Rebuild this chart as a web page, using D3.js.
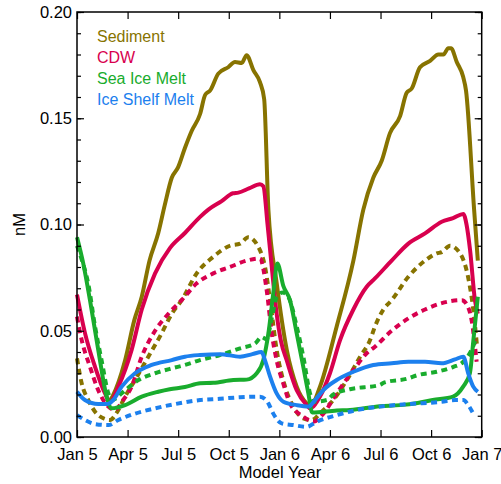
<!DOCTYPE html>
<html>
<head>
<meta charset="utf-8">
<script src="https://cdn.jsdelivr.net/npm/d3@7"></script>
<style>
  html, body { margin: 0; padding: 0; background: #fff; }
  svg { display: block; font-family: "Liberation Sans", Arial, sans-serif; }
</style>
</head>
<body>
<svg id="chart" width="501" height="484"></svg>
<script>
// ---- data (month index from Jan of model year 5, value in nM) ----
const xTickMonths = [0, 3, 6, 9, 12, 15, 18, 21, 24];
const xTickLabels = ["Jan 5", "Apr 5", "Jul 5", "Oct 5", "Jan 6", "Apr 6", "Jul 6", "Oct 6", "Jan 7"];
const yTickValues = [0, 0.05, 0.10, 0.15, 0.20];
const yTickLabels = ["0.00", "0.05", "0.10", "0.15", "0.20"];

const seriesNames = ["Sediment", "CDW", "Sea Ice Melt", "Ice Shelf Melt"];
const seriesColors = ["#877300", "#D8004E", "#19AC2D", "#1C80EE"];

const sedimentSolid = [[1.85,0.016],[2.1,0.019],[2.85,0.036],[3.4,0.055],[3.84,0.066],[4.3,0.083],[4.82,0.096],[5.2,0.109],[5.62,0.122],[6.0,0.127],[6.4,0.136],[6.8,0.144],[7.3,0.152],[7.6,0.161],[7.89,0.163],[8.38,0.171],[8.97,0.174],[9.37,0.1765],[9.77,0.176],[10.06,0.1797],[10.46,0.1726],[10.85,0.167],[11.1,0.159],[11.35,0.107],[11.85,0.072],[12.44,0.041],[13.03,0.0237],[13.62,0.0158],[13.85,0.0145],[14.41,0.0237],[15.4,0.052],[16.39,0.083],[16.98,0.107],[17.57,0.122],[18.07,0.130],[18.56,0.143],[19.16,0.151],[19.55,0.162],[19.85,0.164],[20.34,0.174],[20.94,0.177],[21.43,0.180],[21.73,0.180],[22.02,0.183],[22.18,0.183],[22.52,0.1765],[22.9,0.1695],[23.07,0.163],[23.55,0.107],[23.77,0.083]];
const sedimentDotted = [[0,0.037],[0.28,0.0252],[0.67,0.0174],[1.07,0.0119],[1.56,0.0088],[1.96,0.008],[2.4,0.012],[2.85,0.019],[3.44,0.0268],[4.23,0.0378],[5.02,0.0488],[5.62,0.058],[6.21,0.0644],[7.1,0.077],[8.08,0.0848],[9.07,0.090],[9.67,0.091],[10.16,0.094],[10.75,0.0895],[11.15,0.080],[11.45,0.0644],[11.84,0.041],[12.34,0.0237],[12.83,0.0143],[13.42,0.0088],[13.92,0.008],[14.51,0.0119],[15.2,0.0174],[16.0,0.0268],[16.79,0.0378],[17.38,0.0456],[17.67,0.052],[18.17,0.060],[18.66,0.0644],[19.65,0.0754],[20.64,0.083],[21.33,0.0864],[21.63,0.087],[22.12,0.090],[22.72,0.0864],[23.2,0.075],[23.5,0.060],[23.72,0.043]];
const cdwSolid = [[0,0.067],[0.47,0.049],[1.07,0.033],[1.66,0.0205],[1.96,0.0166],[2.45,0.0237],[3.24,0.041],[3.84,0.060],[4.63,0.077],[5.52,0.089],[6.4,0.096],[7.3,0.1036],[7.79,0.107],[8.58,0.111],[9.25,0.1147],[9.57,0.115],[10.2,0.117],[10.85,0.119],[11.05,0.118],[11.3,0.100],[11.55,0.080],[11.84,0.058],[12.1,0.045],[12.44,0.036],[13.03,0.022],[13.62,0.015],[13.82,0.0135],[14.41,0.019],[15.0,0.030],[15.6,0.0456],[16.39,0.060],[17.18,0.0707],[17.67,0.0746],[18.66,0.083],[19.65,0.091],[20.64,0.0958],[21.63,0.1013],[22.3,0.103],[22.91,0.105],[23.1,0.100],[23.31,0.088],[23.6,0.0644],[23.77,0.058]];
const cdwDotted = [[0,0.0566],[0.28,0.0456],[0.77,0.033],[1.26,0.022],[1.86,0.0143],[2.25,0.0127],[2.7,0.017],[3.24,0.0237],[3.84,0.0378],[4.63,0.050],[5.42,0.058],[6.21,0.0644],[7.1,0.0723],[8.08,0.077],[9.07,0.080],[10.06,0.083],[10.85,0.084],[11.25,0.069],[11.55,0.0488],[11.84,0.036],[12.24,0.025],[12.63,0.0158],[13.42,0.0096],[14.02,0.0072],[14.61,0.011],[15.4,0.0205],[16.39,0.0315],[17.18,0.0394],[17.67,0.0425],[18.66,0.050],[19.65,0.0558],[20.64,0.060],[21.63,0.063],[22.82,0.0644],[23.2,0.061],[23.4,0.055],[23.7,0.0354]];
const seaIceSolid = [[0,0.094],[0.37,0.0817],[0.77,0.0644],[1.26,0.041],[1.76,0.019],[2.06,0.0135],[2.85,0.015],[3.84,0.019],[4.82,0.0213],[5.5,0.0225],[6.4,0.0235],[7.3,0.0253],[8.08,0.0255],[9.27,0.0268],[10.06,0.027],[10.66,0.030],[11.05,0.0362],[11.35,0.0488],[11.64,0.0676],[11.88,0.0817],[12.24,0.071],[12.63,0.0644],[13.03,0.0488],[13.42,0.033],[13.72,0.0205],[13.95,0.0115],[15.4,0.0125],[16.19,0.0127],[17.97,0.0145],[19.16,0.015],[20.2,0.016],[21.1,0.0174],[22.3,0.019],[22.9,0.0237],[23.3,0.030],[23.5,0.045],[23.77,0.066]];
const seaIceDotted = [[0,0.090],[0.3,0.083],[0.67,0.072],[1.07,0.052],[1.46,0.036],[1.86,0.0205],[2.06,0.0174],[2.85,0.022],[3.64,0.0268],[4.63,0.030],[5.62,0.0323],[6.4,0.0339],[7.3,0.0362],[8.48,0.0386],[9.67,0.0417],[10.56,0.044],[10.95,0.047],[11.25,0.046],[11.55,0.056],[11.85,0.066],[12.2,0.068],[12.53,0.066],[13.03,0.052],[13.42,0.0378],[13.82,0.0205],[14.02,0.0166],[14.81,0.0174],[15.2,0.020],[16.19,0.0225],[17.97,0.0245],[18.17,0.0255],[19.65,0.0276],[20.15,0.029],[21.33,0.0307],[22.32,0.033],[22.91,0.0354],[23.4,0.041],[23.7,0.047]];
const shelfSolid = [[0,0.0213],[0.47,0.0174],[1.26,0.0155],[1.76,0.0155],[2.15,0.0174],[2.65,0.0237],[3.44,0.030],[4.43,0.0339],[5.62,0.0362],[6.4,0.0378],[7.3,0.0386],[8.48,0.039],[9.67,0.0378],[10.4,0.039],[10.95,0.040],[11.15,0.036],[11.45,0.0284],[11.84,0.0205],[12.24,0.0166],[13.03,0.015],[13.72,0.0143],[14.12,0.0174],[14.61,0.0221],[15.4,0.0268],[16.39,0.0307],[17.57,0.0339],[18.66,0.0347],[19.65,0.0354],[20.64,0.0354],[21.63,0.0347],[22.42,0.0365],[22.91,0.0378],[23.2,0.030],[23.5,0.0237],[23.77,0.0213]];
const shelfDotted = [[0,0.0103],[0.47,0.008],[1.07,0.0061],[1.86,0.0056],[2.45,0.008],[3.44,0.011],[4.63,0.0135],[5.81,0.0155],[7.3,0.0174],[8.48,0.018],[9.67,0.0187],[10.85,0.019],[11.35,0.0158],[11.64,0.011],[12.14,0.0064],[12.83,0.0056],[13.62,0.0048],[14.22,0.0072],[15.4,0.0103],[16.59,0.0127],[17.97,0.0143],[19.65,0.0155],[21.63,0.0166],[22.42,0.0174],[22.91,0.0174],[23.2,0.015],[23.5,0.011]];

// ---- layout ----
const svg = d3.select("#chart");
const L = 77, R = 481.7, T = 12, B = 437;
const x = d3.scaleLinear().domain([0, 24]).range([L, R]);
const y = d3.scaleLinear().domain([0, 0.20]).range([B, T]);

const lineGen = d3.line().x(d => x(d[0])).y(d => y(d[1])).curve(d3.curveMonotoneX);

const plot = svg.append("g");
const seriesList = [
  {data: sedimentSolid, c: 0, dashed: false},
  {data: sedimentDotted, c: 0, dashed: true},
  {data: cdwSolid, c: 1, dashed: false},
  {data: cdwDotted, c: 1, dashed: true},
  {data: seaIceDotted, c: 2, dashed: true},
  {data: seaIceSolid, c: 2, dashed: false},
  {data: shelfDotted, c: 3, dashed: true},
  {data: shelfSolid, c: 3, dashed: false}
];
seriesList.forEach(s => {
  plot.append("path")
    .datum(s.data)
    .attr("d", lineGen)
    .attr("fill", "none")
    .attr("stroke", seriesColors[s.c])
    .attr("stroke-width", 4)
    .attr("stroke-linejoin", "round")
    .attr("stroke-dasharray", s.dashed ? "6,4.5" : null);
});

// ---- axes ----
const fs = "16.5px";
const axB = svg.append("g").attr("transform", `translate(0,${B})`)
  .call(d3.axisBottom(x).tickValues(xTickMonths).tickSizeInner(-7).tickSizeOuter(0)
    .tickFormat((d, i) => xTickLabels[i]).tickPadding(11));
const axT = svg.append("g").attr("transform", `translate(0,${T})`)
  .call(d3.axisTop(x).tickValues(xTickMonths).tickSizeInner(-7).tickSizeOuter(0).tickFormat(""));
const minorY = d3.range(0, 0.2001, 0.01);
const axLminor = svg.append("g").attr("transform", `translate(${L},0)`)
  .call(d3.axisLeft(y).tickValues(minorY).tickSizeInner(-4).tickSizeOuter(0).tickFormat(""));
const axL = svg.append("g").attr("transform", `translate(${L},0)`)
  .call(d3.axisLeft(y).tickValues(yTickValues).tickSizeInner(-7).tickSizeOuter(0)
    .tickFormat((d, i) => yTickLabels[i]).tickPadding(5));
const axRminor = svg.append("g").attr("transform", `translate(${R},0)`)
  .call(d3.axisRight(y).tickValues(minorY).tickSizeInner(-4).tickSizeOuter(0).tickFormat(""));
const axR = svg.append("g").attr("transform", `translate(${R},0)`)
  .call(d3.axisRight(y).tickValues(yTickValues).tickSizeInner(-7).tickSizeOuter(0).tickFormat(""));

[axB, axT, axL, axLminor, axR, axRminor].forEach(a => {
  a.selectAll(".domain").remove();
  a.selectAll("line").attr("stroke", "#000").attr("stroke-width", 1.2);
  a.selectAll("text").attr("fill", "#000").style("font-size", fs)
    .style("font-family", "'Liberation Sans', Arial, sans-serif");
});
axB.selectAll("text").attr("dy", "0.71em");

// frame
svg.append("rect").attr("x", L).attr("y", T).attr("width", R - L).attr("height", B - T)
  .attr("fill", "none").attr("stroke", "#000").attr("stroke-width", 1.5);

// axis titles
svg.append("text").attr("x", 280).attr("y", 478).attr("text-anchor", "middle")
  .style("font-size", fs).attr("fill", "#000").text("Model Year");
svg.append("text").attr("transform", `translate(25,${(T + B) / 2}) rotate(-90)`)
  .attr("text-anchor", "middle").style("font-size", fs).attr("fill", "#000").text("nM");

// legend
const leg = svg.append("g");
seriesNames.forEach((n, i) => {
  leg.append("text").attr("x", 97).attr("y", 42 + i * 21)
    .style("font-size", "16px").attr("fill", seriesColors[i]).text(n);
});
</script>
</body>
</html>
